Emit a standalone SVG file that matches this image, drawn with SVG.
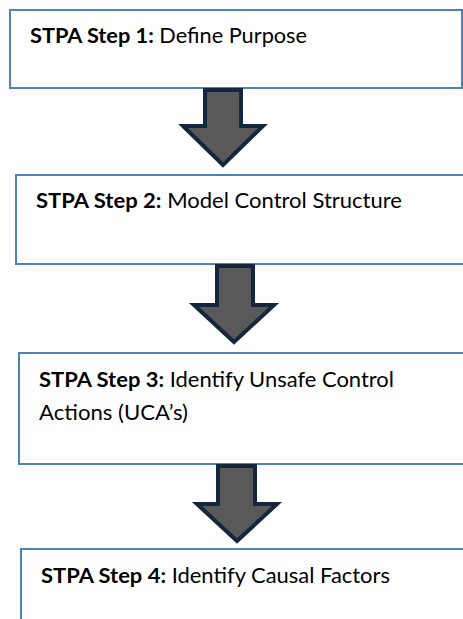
<svg xmlns="http://www.w3.org/2000/svg" width="463" height="619" viewBox="0 0 463 619">
<style>
  .box { fill: #ffffff; stroke: #4F81BD; stroke-width: 2; }
  .lbl { font-family: "Lato", "Liberation Sans", sans-serif; font-size: 21.5px; fill: #000000; }
  .b { font-weight: bold; }
  .arrow { fill: #595959; stroke: #15263F; stroke-width: 4; stroke-linejoin: miter; stroke-miterlimit: 10; }
</style>
<rect width="463" height="619" fill="#ffffff"/>
<g id="step1">
  <rect class="box" x="10" y="10" width="452" height="78"/>
  <text class="lbl" x="30" y="43" textLength="277" lengthAdjust="spacingAndGlyphs"><tspan class="b">STPA Step 1:</tspan> Define Purpose</text>
</g>
<g id="step2">
  <rect class="box" x="16" y="175" width="470" height="89"/>
  <text class="lbl" x="36" y="208" textLength="366" lengthAdjust="spacingAndGlyphs"><tspan class="b">STPA Step 2:</tspan> Model Control Structure</text>
</g>
<g id="step3">
  <rect class="box" x="19" y="353" width="470" height="111"/>
  <text class="lbl" x="39" y="387" textLength="355" lengthAdjust="spacingAndGlyphs"><tspan class="b">STPA Step 3:</tspan> Identify Unsafe Control</text>
  <text class="lbl" x="39" y="420" textLength="149" lengthAdjust="spacingAndGlyphs">Actions (UCA’s)</text>
</g>
<g id="step4">
  <rect class="box" x="21" y="549" width="470" height="100"/>
  <text class="lbl" x="41" y="583" textLength="349" lengthAdjust="spacingAndGlyphs"><tspan class="b">STPA Step 4:</tspan> Identify Causal Factors</text>
</g>
<g id="connectors">
  <path class="arrow" d="M205 90 H241 V126 H263 L223 165 L183 126 H205 Z"/>
  <path class="arrow" d="M217 266 H253 V305 H274 L234 342 L194 305 H217 Z"/>
  <path class="arrow" d="M218 466 H255 V504 H277 L237 541 L197 504 H218 Z"/>
</g>
</svg>
